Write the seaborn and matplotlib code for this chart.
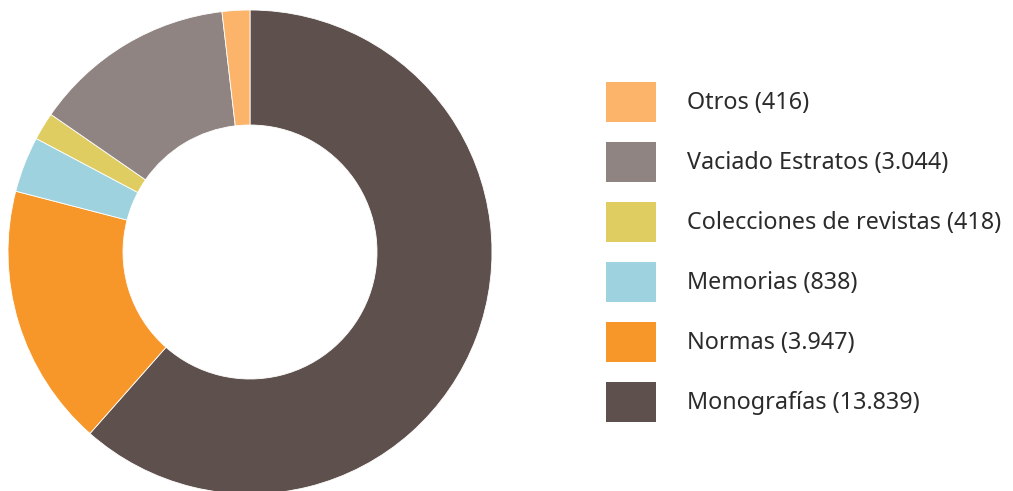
import matplotlib
matplotlib.use("Agg")
import matplotlib.pyplot as plt
from matplotlib.patches import Rectangle
import seaborn as sns

# Fondos por tipo de documento
categorias = ["Monografías", "Normas", "Memorias", "Colecciones de revistas",
              "Vaciado Estratos", "Otros"]
valores = [13839, 3947, 838, 418, 3044, 416]
etiquetas = ["Monografías (13.839)", "Normas (3.947)", "Memorias (838)",
             "Colecciones de revistas (418)", "Vaciado Estratos (3.044)",
             "Otros (416)"]
colores = ["#5e504c", "#f7972a", "#9dd2de", "#dfcd62", "#8f8481", "#fbb46a"]

sns.set_theme(style="white")
plt.rcParams["font.family"] = ["Noto Sans", "DejaVu Sans"]

W, H = 1013, 491
fig = plt.figure(figsize=(W / 100, H / 100), dpi=100)

# Anillo
R = 242
cx, cy = 250, 491 - 252
ax = fig.add_axes([(cx - R) / W, (cy - R) / H, 2 * R / W, 2 * R / H])
ax.pie(valores, colors=colores, startangle=90, counterclock=False,
       radius=1, wedgeprops=dict(width=1 - 127 / 242, linewidth=0.6,
                                 edgecolor="white"))
ax.set_xlim(-1, 1)
ax.set_ylim(-1, 1)
ax.set_aspect("equal")
ax.axis("off")

# Leyenda
for i, (lab, col) in enumerate(zip(etiquetas[::-1], colores[::-1])):
    top = 82 + 60 * i
    fig.patches.append(Rectangle((606 / W, 1 - (top + 40) / H), 50 / W, 40 / H,
                                 transform=fig.transFigure, facecolor=col,
                                 edgecolor="none"))
    fig.text(687 / W, 1 - (top + 21) / H, lab, fontsize=16.8, color="#2b2b2b",
             fontweight="light", va="center", ha="left")

fig.savefig("out.png", dpi=100, facecolor="white")
